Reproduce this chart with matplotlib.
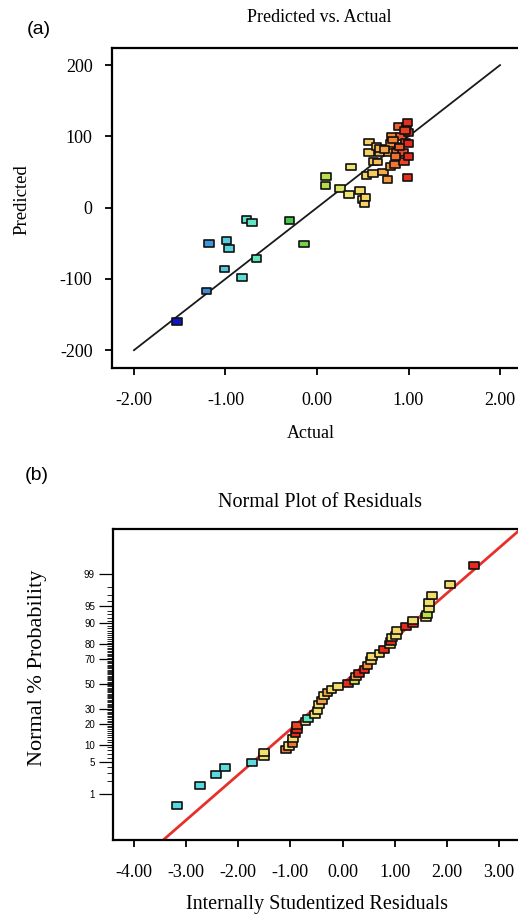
import math
import numpy as np
import matplotlib
matplotlib.use("Agg")
import matplotlib.pyplot as plt
from matplotlib.path import Path
from matplotlib.colors import LinearSegmentedColormap, Normalize

plt.rcParams['font.family'] = ['Liberation Serif', 'DejaVu Serif']
plt.rcParams['axes.unicode_minus'] = False

# ---- (a) Predicted vs. Actual ----
actual = [-1.53, -1.21, -1.18, -0.99, -0.96, -1.01, -0.82, -0.77, -0.71, -0.66,
          -0.30, -0.14, 0.10, 0.09, 0.25, 0.35, 0.37, 0.47, 0.50, 0.53,
          0.52, 0.54, 0.61, 0.57, 0.57, 0.62, 0.65, 0.68, 0.66, 0.72,
          0.77, 0.80, 0.78, 0.80, 0.82, 0.85, 0.87, 0.89, 0.92, 0.95,
          0.94, 0.97, 0.98, 0.99, 1.00, 1.00, 0.99, 0.69, 0.86, 1.00,
          0.74, 0.90, 0.96, 0.83]
predicted = [-160, -117, -50, -46, -57, -86, -98, -17, -21, -71,
             -18, -51, 44, 31, 27, 18, 57, 24, 11, 14,
             5, 45, 48, 92, 77, 65, 86, 77, 64, 50,
             39, 58, 77, 90, 100, 60, 77, 114, 100, 65,
             77, 91, 114, 120, 105, 72, 42, 83, 72, 90,
             82, 85, 108, 95]
fit_a_x = [-2.0, 2.0]
fit_a_y = [-200, 200]

# ---- (b) Normal plot of residuals ----
resid = [-3.18, -2.74, -2.42, -2.26, -1.74, -1.51, -1.50, -1.08, -1.02, -0.96,
         -0.95, -0.90, -0.88, -0.88, -0.71, -0.66, -0.53, -0.48, -0.45, -0.40,
         -0.35, -0.29, -0.21, -0.08, 0.10, 0.23, 0.26, 0.32, 0.42, 0.48,
         0.55, 0.57, 0.71, 0.79, 0.91, 0.93, 0.95, 1.03, 1.05, 1.21,
         1.35, 1.35, 1.60, 1.62, 1.65, 1.65, 1.72, 2.06, 2.52]
norm_pct = [0.52, 1.6, 2.8, 3.8, 4.9, 6.2, 7.4, 8.4, 9.5, 10.5,
            12.5, 14.9, 16.9, 18.9, 21.2, 23.5, 25.7, 29.1, 32.9, 36.7,
            40.2, 43.0, 45.6, 47.6, 50.4, 53.3, 56.7, 59.0, 62.2, 65.6,
            69.4, 71.9, 74.2, 76.8, 79.9, 81.8, 83.6, 85.0, 87.3, 88.7,
            90.0, 91.0, 92.2, 93.0, 94.6, 95.7, 97.0, 98.2, 99.38]
# response level used for the point colour
resid_level = [-0.95, -0.95, -0.95, -0.9, -0.9, 0.4, 0.4, 0.85, 0.4, 0.85,
               0.4, 1.0, 1.0, 0.95, 0.4, -0.7, 0.4, 0.4, 0.4, 0.75,
               0.4, 0.75, 0.45, 0.45, 1.0, 0.15, 0.75, 1.0, 1.0, 0.8,
               0.6, 0.45, 0.45, 1.0, 0.45, 1.0, 0.45, 0.45, 0.5, 1.0,
               1.0, 0.45, 0.4, 0.1, 0.4, 0.45, 0.45, 0.45, 1.0]
ref_slope = 0.96
ref_intercept = 0.0

prob_major = [1, 5, 10, 20, 30, 50, 70, 80, 90, 95, 99]
prob_minor = [2, 3, 4, 6, 7, 8, 9] + list(range(11, 90)) + [91, 92, 93, 94, 96, 97, 98]


def probit(pct):
    p = np.clip(np.asarray(pct, dtype=float) / 100.0, 1e-6, 1 - 1e-6)
    z = np.zeros_like(p)
    for _ in range(80):
        cdf = 0.5 * (1 + np.array([math.erf(v / math.sqrt(2)) for v in z]))
        pdf = np.exp(-z ** 2 / 2) / math.sqrt(2 * math.pi)
        z = z - (cdf - p) / pdf
    return z


cmap = LinearSegmentedColormap.from_list('de', [
    (0.00, '#0a10c8'), ((-1.2 + 1.55) / 2.55, '#3f8fd8'),
    ((-0.95 + 1.55) / 2.55, '#5ad8e0'), ((-0.65 + 1.55) / 2.55, '#5ee8c0'),
    ((-0.3 + 1.55) / 2.55, '#48c84a'), ((0.1 + 1.55) / 2.55, '#b8e04a'),
    ((0.35 + 1.55) / 2.55, '#f0e870'), ((0.6 + 1.55) / 2.55, '#f8cc60'),
    ((0.8 + 1.55) / 2.55, '#f49038'), (1.00, '#e82a1a')])
cnorm = Normalize(vmin=-1.55, vmax=1.0)

rect = Path([(-1, -0.72), (1, -0.72), (1, 0.72), (-1, 0.72), (-1, -0.72)],
            [Path.MOVETO, Path.LINETO, Path.LINETO, Path.LINETO, Path.CLOSEPOLY])

W, H = 518, 917
fig = plt.figure(figsize=(W / 100, H / 100), dpi=100)


def style_axes(ax):
    for s in ['left', 'bottom', 'top', 'right']:
        ax.spines[s].set_linewidth(1.6)
    ax.spines['right'].set_visible(False)
    ax.tick_params(axis='both', direction='out', length=5, width=1.3,
                   labelsize=13, top=False, right=False)
    ax.tick_params(axis='x', pad=12)
    ax.tick_params(axis='y', pad=9)


# panel (a)
ax1 = fig.add_axes([112 / W, 1 - 368 / H, 410 / W, 320 / H])
ax1.plot(fit_a_x, fit_a_y, color='#1a1a1a', lw=1.3, zorder=1)
ax1.scatter(actual, predicted, marker=rect, s=46, c=actual, cmap=cmap, norm=cnorm,
            edgecolors='#111111', linewidths=1.2, zorder=2)
ax1.set_xlim(-2.24, 2.24)
ax1.set_ylim(-225, 224)
ax1.set_xticks([-2, -1, 0, 1, 2])
ax1.set_xticklabels(['-2.00', '-1.00', '0.00', '1.00', '2.00'])
ax1.set_yticks([-200, -100, 0, 100, 200])
style_axes(ax1)
fig.text(311 / W, 1 - 433 / H, 'Actual', ha='center', va='center', fontsize=13)
fig.text(22 / W, 1 - 200 / H, 'Predicted', ha='center', va='center',
         rotation=90, fontsize=13.5)
fig.text(319 / W, 1 - 17 / H, 'Predicted vs. Actual', ha='center', va='center',
         fontsize=13)
fig.text(27 / W, 1 - 29 / H, '(a)', ha='left', va='center', fontsize=14,
         family=['Liberation Sans', 'DejaVu Sans'])

# panel (b)
ax2 = fig.add_axes([113 / W, 1 - 840 / H, 409 / W, 311 / H])
line_x = np.array([-4.4, 3.44])
ax2.plot(line_x, ref_slope * line_x + ref_intercept, color='#e8302a', lw=2.0,
         zorder=1)
ax2.scatter(resid, probit(norm_pct), marker=rect, s=50, c=resid_level, cmap=cmap,
            norm=cnorm, edgecolors='#111111', linewidths=1.2, zorder=2)
ax2.set_xlim(-4.4, 3.44)
ax2.set_ylim(-3.3, 3.28)
ax2.set_xticks([-4, -3, -2, -1, 0, 1, 2, 3])
ax2.set_xticklabels(['-4.00', '-3.00', '-2.00', '-1.00', '0.00', '1.00', '2.00', '3.00'])
style_axes(ax2)
ax2.set_yticks(probit(prob_major))
ax2.set_yticklabels([str(v) for v in prob_major], fontsize=7,
                    family=['Liberation Sans', 'DejaVu Sans'])
ax2.set_yticks(probit(prob_minor), minor=True)
ax2.tick_params(axis='y', which='major', length=10, width=0.9, pad=3)
ax2.tick_params(axis='y', which='minor', length=4, width=0.6, left=True)
fig.text(317 / W, 1 - 905 / H, 'Internally Studentized Residuals', ha='center',
         va='center', fontsize=14.5)
fig.text(38 / W, 1 - 668 / H, 'Normal % Probability', ha='center', va='center',
         rotation=90, fontsize=16)
fig.text(320 / W, 1 - 502 / H, 'Normal Plot of Residuals', ha='center',
         va='center', fontsize=14.5)
fig.text(25 / W, 1 - 476 / H, '(b)', ha='left', va='center', fontsize=14,
         family=['Liberation Sans', 'DejaVu Sans'])

fig.savefig('out.png', dpi=100)
